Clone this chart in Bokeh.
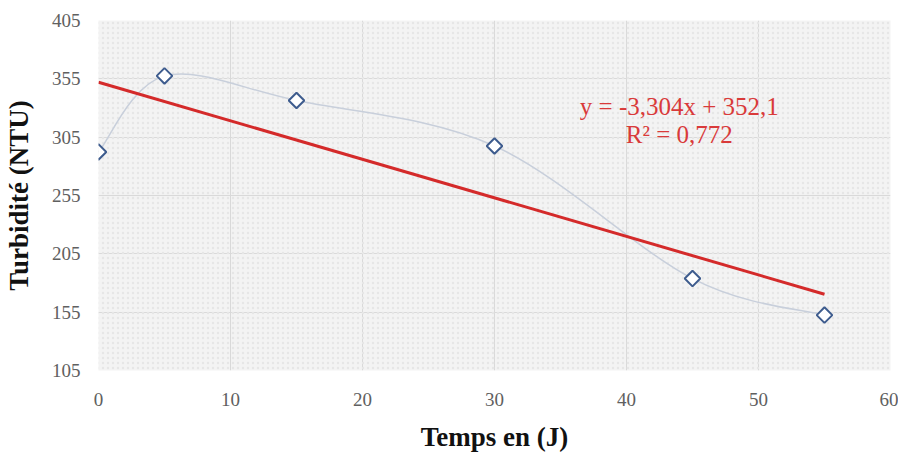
import numpy as np
from bokeh.plotting import figure
from bokeh.models import FixedTicker, Label, BoxAnnotation
from bokeh.embed import file_html
from bokeh.resources import INLINE

# ---- data ----
days = [0, 5, 15, 30, 45, 55]
turbidity = [292.3, 357.5, 336.4, 297.4, 183.8, 152.5]
slope = -3.304
intercept = 352.1
r2 = 0.772
x_ticks = [0, 10, 20, 30, 40, 50, 60]
y_ticks = [105, 155, 205, 255, 305, 355, 405]
eq_text = "y = -3,304x + 352,1"
r2_text = "R² = 0,772"
x_title = "Temps en (J)"
y_title = "Turbidité (NTU)"

p = figure(width=898, height=454, output_backend="svg", toolbar_location=None,
           x_range=(0, 60), y_range=(105, 405),
           min_border_left=98, min_border_right=8, min_border_top=20, min_border_bottom=60)
p.background_fill_color = "#f3f3f3"
p.border_fill_color = "white"
p.outline_line_color = None

p.add_layout(BoxAnnotation(fill_alpha=0, hatch_pattern="dot", hatch_color="#e6e6e6",
                           hatch_scale=5, line_color=None, level="underlay"))

for ax in (p.xaxis, p.yaxis):
    ax.axis_line_color = None
    ax.major_tick_line_color = None
    ax.minor_tick_line_color = None
    ax.major_tick_out = 0
    ax.major_tick_in = 0
    ax.major_label_text_font = "Liberation Serif"
    ax.major_label_text_font_size = "19px"
    ax.major_label_text_color = "#606060"
    ax.axis_label_text_font = "Liberation Serif"
    ax.axis_label_text_font_style = "bold"
    ax.axis_label_text_font_size = "27px"
    ax.axis_label_text_color = "#111111"

p.xaxis.ticker = FixedTicker(ticks=x_ticks)
p.yaxis.ticker = FixedTicker(ticks=y_ticks)
p.xaxis.major_label_standoff = 22
p.yaxis.major_label_standoff = 18
p.xaxis.axis_label = x_title
p.yaxis.axis_label = y_title
p.xaxis.axis_label_standoff = 13
p.yaxis.axis_label_standoff = 15

p.xgrid.grid_line_color = "#d9d9d9"
p.ygrid.grid_line_color = "#d9d9d9"
p.xgrid.grid_line_width = 1
p.ygrid.grid_line_width = 1

# smoothed line (Bezier segments with Catmull-Rom style control points)
xs = np.array(days, dtype=float)
ys = np.array(turbidity, dtype=float)
n = len(xs)
x0, y0, x1, y1, cx0, cy0, cx1, cy1 = [], [], [], [], [], [], [], []
for i in range(n - 1):
    pm = max(i - 1, 0)
    pp = min(i + 2, n - 1)
    x0.append(xs[i]); y0.append(ys[i])
    x1.append(xs[i + 1]); y1.append(ys[i + 1])
    cx0.append(xs[i] + (xs[i + 1] - xs[pm]) / 6)
    cy0.append(ys[i] + (ys[i + 1] - ys[pm]) / 6)
    cx1.append(xs[i + 1] - (xs[pp] - xs[i]) / 6)
    cy1.append(ys[i + 1] - (ys[pp] - ys[i]) / 6)
p.bezier(x0=x0, y0=y0, x1=x1, y1=y1, cx0=cx0, cy0=cy0, cx1=cx1, cy1=cy1,
         line_color="#c8cfdb", line_width=1.5)

# trend line
tx = [days[0], days[-1]]
ty = [intercept + slope * v for v in tx]
p.line(tx, ty, line_color="#d42a2a", line_width=3)

# markers
p.scatter(days, turbidity, marker="square", angle=np.pi / 4, size=11, line_color="#3e5c8e",
          line_width=2, fill_color="white")

# equation
p.add_layout(Label(x=44.0, y=331, text=eq_text, text_align="center", text_baseline="middle",
                   text_font="Liberation Serif", text_font_size="25px", text_color="#d93a3a"))
p.add_layout(Label(x=44.0, y=307.3, text=r2_text, text_align="center", text_baseline="middle",
                   text_font="Liberation Serif", text_font_size="25px", text_color="#d93a3a"))

open("out.html", "w").write(file_html(p, INLINE))
